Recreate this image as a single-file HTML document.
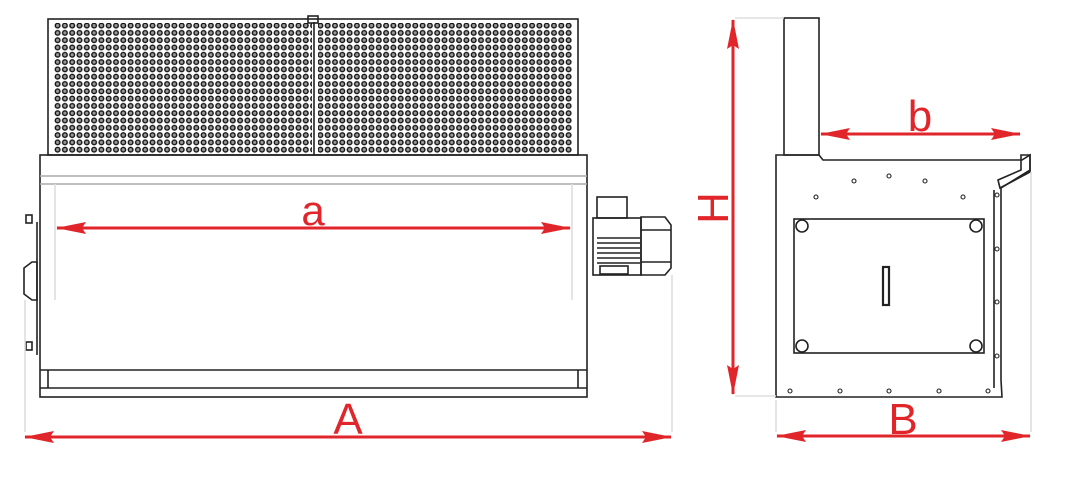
<!DOCTYPE html>
<html><head><meta charset="utf-8"><style>
html,body{margin:0;padding:0;background:#fff;width:1075px;height:478px;overflow:hidden}
svg{display:block}
text{font-family:"Liberation Sans",sans-serif;fill:#e0262b}
</style></head><body>
<svg width="1075" height="478" viewBox="0 0 1075 478" xmlns="http://www.w3.org/2000/svg">
<defs>
<pattern id="perf" x="54" y="22" width="7.3" height="7.3" patternUnits="userSpaceOnUse">
<circle cx="3.6" cy="3.6" r="2.3" fill="#999" stroke="#111" stroke-width="1.4"/>
</pattern>
<marker id="ah" markerWidth="30" markerHeight="12" refX="29" refY="6" orient="auto-start-reverse" markerUnits="userSpaceOnUse">
<path d="M0,0 L30,6 L0,12 L4,6 Z" fill="#e0262b"/>
</marker>
</defs>
<g fill="none" stroke="#222" stroke-width="1.6">
<rect x="48" y="19" width="530" height="136"/>
<rect x="54" y="23" width="258" height="131" fill="url(#perf)" stroke="none"/>
<rect x="318" y="23" width="254" height="131" fill="url(#perf)" stroke="none"/>
<line x1="314" y1="22" x2="314" y2="155"/>
<rect x="308" y="16" width="10" height="7"/>
<rect x="40" y="155" width="547" height="242"/>
<line x1="40" y1="176" x2="587" y2="176" stroke="#aaa"/>
<line x1="40" y1="184" x2="587" y2="184" stroke="#aaa"/>
<line x1="40" y1="370" x2="587" y2="370"/>
<line x1="48" y1="370" x2="48" y2="388"/>
<line x1="578" y1="370" x2="578" y2="388"/>
<line x1="40" y1="388" x2="587" y2="388"/>
<line x1="55" y1="184" x2="55" y2="300" stroke="#ddd"/>
<line x1="572" y1="184" x2="572" y2="300" stroke="#ddd"/>
<line x1="37" y1="222" x2="37" y2="355"/>
<rect x="26" y="215" width="6" height="8"/>
<rect x="26" y="342" width="6" height="8"/>
<path d="M32,262 L24,268 L24,294 L32,300 L37,300 L37,262 Z"/>
<line x1="25" y1="300" x2="25" y2="432" stroke="#ddd"/>
<line x1="672" y1="275" x2="672" y2="432" stroke="#ddd"/>
<rect x="597" y="197" width="30" height="21"/>
<rect x="593" y="218" width="48" height="57"/>
<path d="M641,217 L665,217 L671,225 L671,268 L665,275 L641,275 Z"/>
<line x1="641" y1="230" x2="671" y2="230"/>
<line x1="641" y1="262" x2="671" y2="262"/>
<line x1="597" y1="238" x2="640" y2="238"/>
<line x1="597" y1="243" x2="640" y2="243"/>
<line x1="597" y1="248" x2="640" y2="248"/>
<line x1="597" y1="253" x2="640" y2="253"/>
<line x1="597" y1="258" x2="640" y2="258"/>
<line x1="597" y1="263" x2="640" y2="263"/>
<rect x="600" y="266" width="28" height="8"/>
<rect x="784" y="18" width="35" height="137"/>
<path d="M776,155 L819,155 L823,160 L1022,160 L1030,155 L1030,170 L1001,188 L1001,380 L1002,397 L776,397 Z"/>
<path d="M1021,155 L1030,155 L1030,172 L1000,188 L998,180 L1021,170 Z"/>
<line x1="994" y1="190" x2="994" y2="388"/>
<rect x="794" y="219" width="190" height="134"/>
<circle cx="802" cy="226" r="6"/><circle cx="976" cy="226" r="6"/>
<circle cx="802" cy="346" r="6"/><circle cx="976" cy="346" r="6"/>
<rect x="883" y="267" width="6" height="38" stroke-width="2.2"/>
<g stroke-width="1.1">
<circle cx="854" cy="181" r="2"/><circle cx="889" cy="176" r="2"/><circle cx="925" cy="181" r="2"/>
<circle cx="816" cy="197" r="2"/><circle cx="963" cy="197" r="2"/>
<circle cx="790" cy="391" r="2"/><circle cx="840" cy="391" r="2"/><circle cx="889" cy="391" r="2"/><circle cx="939" cy="391" r="2"/><circle cx="988" cy="391" r="2"/>
<circle cx="997" cy="195" r="2"/><circle cx="997" cy="249" r="2"/><circle cx="997" cy="302" r="2"/><circle cx="997" cy="356" r="2"/>
</g>
<line x1="1031" y1="172" x2="1031" y2="432" stroke="#ddd"/>
<line x1="776" y1="400" x2="776" y2="432" stroke="#ddd"/>
<line x1="735" y1="18" x2="784" y2="18" stroke="#ddd"/>
<line x1="735" y1="396" x2="776" y2="396" stroke="#ddd"/>
</g>
<g stroke="#e0262b" stroke-width="3">
<line x1="57" y1="228" x2="570" y2="228" marker-start="url(#ah)" marker-end="url(#ah)"/>
<line x1="25" y1="437" x2="671" y2="437" marker-start="url(#ah)" marker-end="url(#ah)"/>
<line x1="733" y1="20" x2="733" y2="394" marker-start="url(#ah)" marker-end="url(#ah)"/>
<line x1="821" y1="134" x2="1020" y2="134" marker-start="url(#ah)" marker-end="url(#ah)"/>
<line x1="777" y1="436" x2="1030" y2="436" marker-start="url(#ah)" marker-end="url(#ah)"/>
</g>
<text x="313" y="225" font-size="42" text-anchor="middle">a</text>
<text x="348" y="434" font-size="44" text-anchor="middle">A</text>
<text x="920" y="131" font-size="44" text-anchor="middle">b</text>
<text x="903" y="434" font-size="44" text-anchor="middle">B</text>
<text x="0" y="0" font-size="44" text-anchor="middle" transform="translate(728,208) rotate(-90)">H</text>
</svg>
</body></html>
